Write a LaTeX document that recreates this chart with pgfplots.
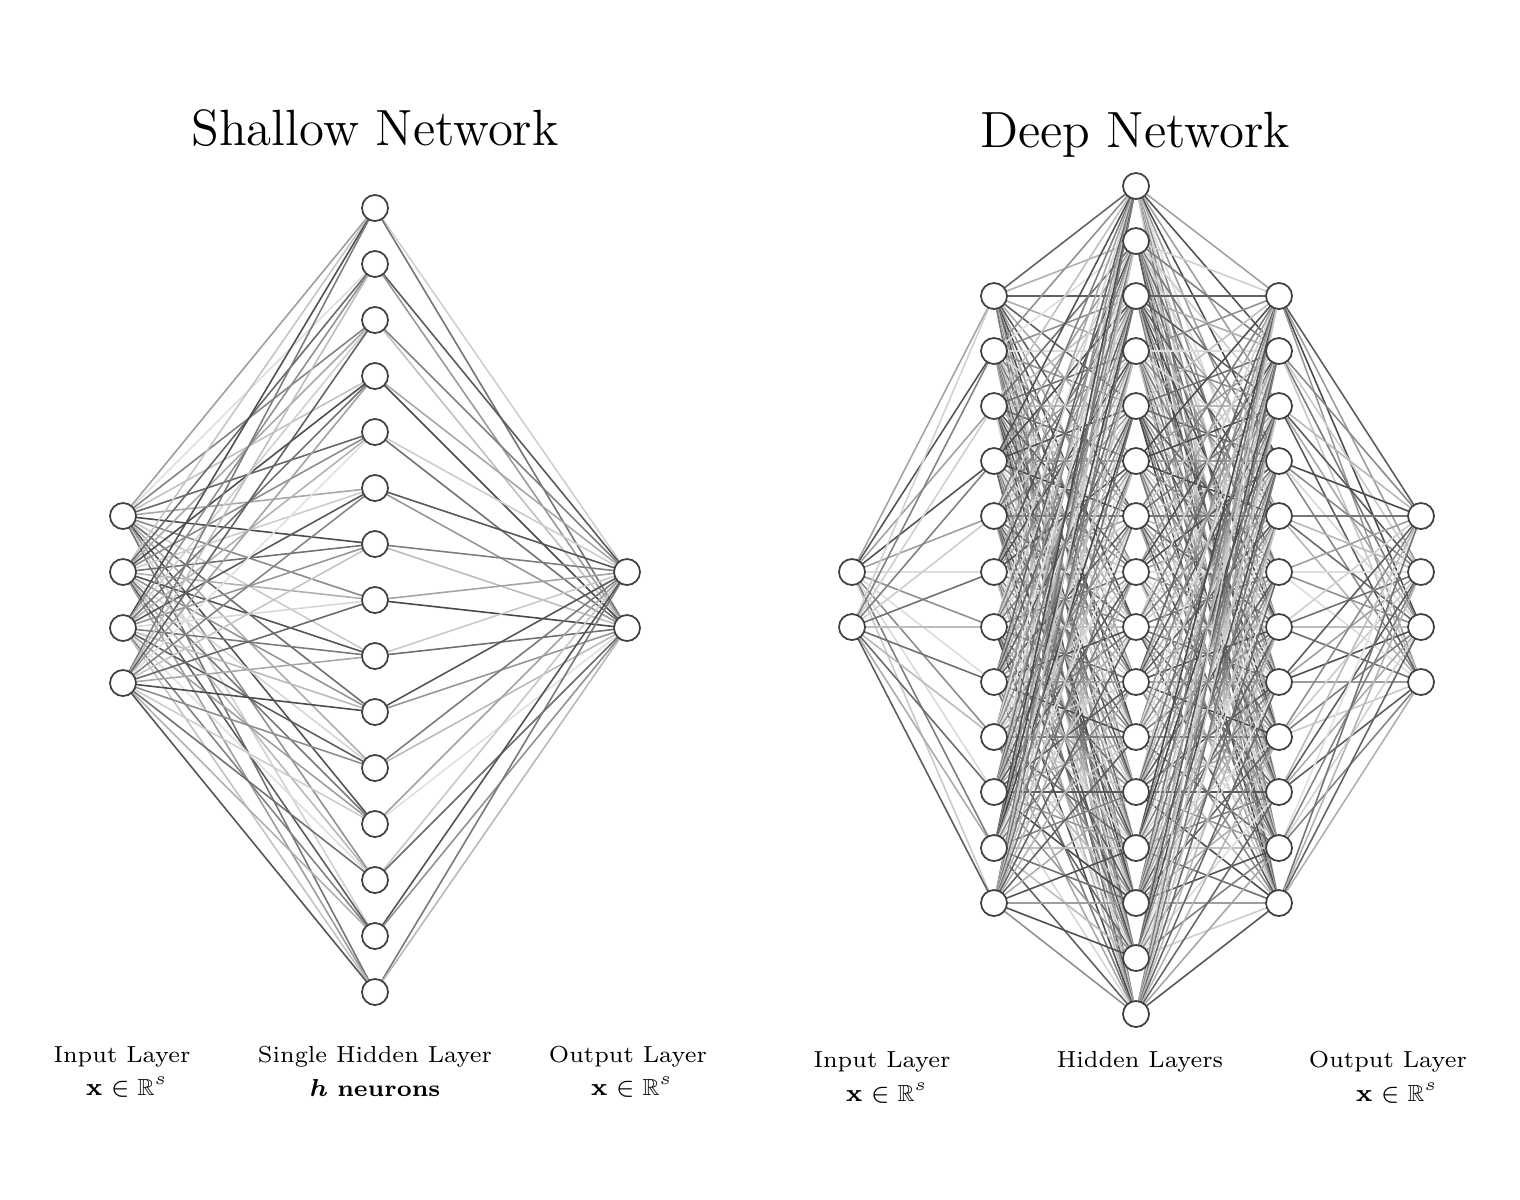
\documentclass[border=0pt]{standalone}
\usepackage{pgfplots}
\pgfplotsset{compat=1.18}
\usepackage{amssymb,amsmath,bm}
\newcommand\layerA{516,572,628,683}
\newcommand\layerH{208,264,320,376,432,488,544,600,656,712,768,824,880,936,992}
\newcommand\layerO{572,628}
\newcommand\dIn{572,627}
\newcommand\dA{296,351,406,461,516,572,627,682,737,792,848,903}
\newcommand\dB{186,241,296,351,406,461,516,572,627,682,737,792,848,903,958,1014}
\newcommand\dOut{516,572,627,682}
\newcommand\connect[4]{%
 \foreach \a in #2 {\foreach \b in #4 {%
  \pgfmathtruncatemacro\s{mod(\a*3+\b*5,61)+12}%
  \edef\tmp{\noexpand\addplot[draw=black!\s,line width=0.45pt,no marks,forget plot] coordinates {(#1,\a)(#3,\b)};}\tmp
 }}}
\newcommand\layer[2]{%
 \foreach \a in #2 {\edef\tmp{\noexpand\addplot[only marks,mark=*,mark size=3.7pt,mark options={fill=white,draw=black!75,line width=0.5pt},forget plot] coordinates {(#1,\a)};}\tmp}}
\begin{document}
\begin{tikzpicture}
\begin{axis}[width=15.2cm,height=12cm,scale only axis,xmin=0,xmax=1520,ymin=0,ymax=1200,y dir=reverse,hide axis,clip=false]
\path (axis cs:0,0) rectangle (axis cs:1520,1200);
\connect{123}{\layerA}{375}{\layerH}
\connect{375}{\layerH}{627}{\layerO}
\connect{852}{\dIn}{994}{\dA}
\connect{994}{\dA}{1136}{\dB}
\connect{1136}{\dB}{1279}{\dA}
\connect{1279}{\dA}{1421}{\dOut}
\layer{123}{\layerA}
\layer{375}{\layerH}
\layer{627}{\layerO}
\layer{852}{\dIn}
\layer{994}{\dA}
\layer{1136}{\dB}
\layer{1279}{\dA}
\layer{1421}{\dOut}
\node[font=\fontsize{14.5}{16}\selectfont] at (axis cs:375,128) {Shallow Network};
\node[font=\fontsize{14.5}{16}\selectfont] at (axis cs:1135,135) {Deep Network};
\begin{scope}[every node/.style={font=\fontsize{6.6}{8}\selectfont}]
\node at (axis cs:122,1057) {Input Layer};
\node at (axis cs:127,1087) {$\mathbf{x}\in\mathbb{R}^s$};
\node at (axis cs:375,1057) {Single Hidden Layer};
\node at (axis cs:375,1088) {$\bm{h}$ \textbf{neurons}};
\node at (axis cs:628,1057) {Output Layer};
\node at (axis cs:632,1087) {$\mathbf{x}\in\mathbb{R}^s$};
\node at (axis cs:882,1062) {Input Layer};
\node at (axis cs:887,1093) {$\mathbf{x}\in\mathbb{R}^s$};
\node at (axis cs:1140,1062) {Hidden Layers};
\node at (axis cs:1388,1062) {Output Layer};
\node at (axis cs:1397,1093) {$\mathbf{x}\in\mathbb{R}^s$};
\end{scope}
\end{axis}
\end{tikzpicture}
\end{document}
